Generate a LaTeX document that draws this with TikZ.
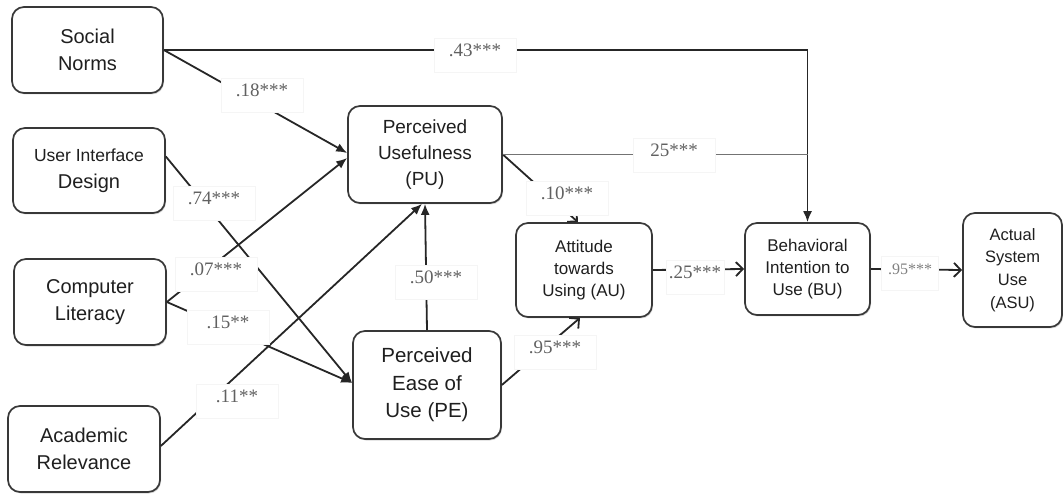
\documentclass[tikz,border=0pt]{standalone}
\usepackage{fontspec}
\setmainfont{Liberation Sans}
\newfontfamily\numfont{Liberation Serif}
\usetikzlibrary{arrows.meta,shadows}

\begin{document}
\begin{tikzpicture}[x=1pt,y=-1pt,
  box/.style={draw=black!78,line width=1.7pt,rounded corners=12pt,fill=white,align=center,
    text=black!88,inner sep=2pt,drop shadow={shadow xshift=1pt,shadow yshift=-1.5pt,opacity=.3}},
  big/.style={font=\fontsize{20}{27}\selectfont}, mid/.style={font=\fontsize{19}{26}\selectfont},
  sml/.style={font=\fontsize{17}{22.3}\selectfont},
  ln/.style={line width=1.8pt,draw=black!85},
  fa/.style={-{Latex[length=11pt,width=9pt]}}, oa/.style={-{Straight Barb[length=7pt,width=14pt]}},
  lbl/.style={fill=white,draw=black!4,font=\numfont\fontsize{19}{19}\selectfont,text=black!62,
    text height=13pt,text depth=11pt,inner xsep=1pt,inner ysep=5pt,minimum width=82pt}]
  \useasboundingbox (0,0) rectangle (1063,494);
  % constructs
  \node[box,big,minimum width=151pt,minimum height=86pt](sn) at (87.5,50){Social\\Norms};
  \node[box,big,minimum width=152pt,minimum height=85pt](uid) at (89,170.5)
    {{\fontsize{17.5}{27}\selectfont User Interface}\\Design};
  \node[box,big,minimum width=152pt,minimum height=86pt](cl) at (90,302){Computer\\Literacy};
  \node[box,big,minimum width=152pt,minimum height=86pt](ar) at (84,449){Academic\\Relevance};
  \node[box,mid,minimum width=154pt,minimum height=97pt](pu) at (425,154.5){Perceived\\Usefulness\\(PU)};
  \node[box,font=\fontsize{20.5}{27.5}\selectfont,minimum width=148pt,minimum height=108pt](pe) at (427,385)
    {Perceived\\Ease of\\Use (PE)};
  \node[box,sml,minimum width=136pt,minimum height=94pt](au) at (584,270){Attitude\\towards\\Using (AU)};
  \node[box,sml,minimum width=125pt,minimum height=92pt](bu) at (807.5,269){Behavioral\\Intention to\\Use (BU)};
  \node[box,font=\fontsize{16.5}{22.7}\selectfont,minimum width=99pt,minimum height=114pt](asu) at (1012.5,270)
    {Actual\\System\\Use\\(ASU)};
  % paths
  \draw[ln,fa](sn.east) -| (bu.north);
  \draw[ln,fa](sn.east) -- ([yshift=1.5pt]pu.west);
  \draw[ln,fa]([yshift=14pt]uid.east) -- ([yshift=2pt]pe.west);
  \draw[ln,fa](cl.east) -- ([yshift=-3.5pt]pu.west);
  \draw[ln,fa](cl.east) -- ([yshift=2pt]pe.west);
  \draw[ln,fa]([yshift=3pt]ar.east) -- ([xshift=-3pt]pu.south);
  \draw[ln,fa](pe.north) -- (pu.south);
  \draw[ln,oa](pu.east) -- ([xshift=-6pt]au.north);
  \draw[ln,draw=black!55](pu.east) -- (pu.east -| bu.north);
  \draw[ln,oa](pe.east) -- ([xshift=-4pt]au.south);
  \draw[ln,oa](au.east) -- (bu.west);
  \draw[ln,oa](bu.east) -- (asu.west);
  % coefficients
  \node[lbl](l43) at (475,55.5){.43***};
  \node[lbl](l18) at (262,95.5){.18***};
  \node[lbl](l74) at (214,203.5){.74***};
  \node[lbl](l07) at (216,274.5){.07***};
  \node[lbl](l15) at (228,327.5){.15**};
  \node[lbl](l11) at (237,401.5){.11**};
  \node[lbl](l50) at (436,282.5){.50***};
  \node[lbl](l10) at (567,198.5){.10***};
  \node[lbl](l25a) at (674,155.5){25***};
  \node[lbl](l95a) at (555,352.5){.95***};
  \node[lbl,minimum width=58pt](l25b) at (695,277.5){.25***};
  \node[lbl,minimum width=57pt,text=black!50,font=\numfont\fontsize{16}{16}\selectfont](l95b) at (910,273.5){.95***};
\end{tikzpicture}
\end{document}
